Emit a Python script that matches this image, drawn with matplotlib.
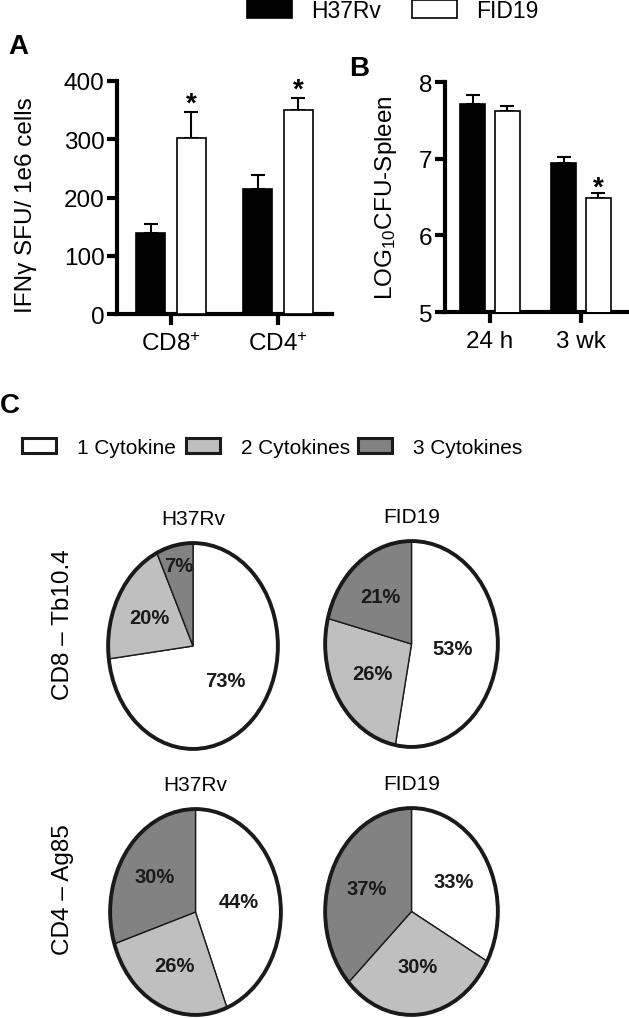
import numpy as np
import matplotlib
matplotlib.use("Agg")
import matplotlib.pyplot as plt
from matplotlib.patches import Patch, Ellipse

plt.rcParams['font.family'] = ['Liberation Sans', 'DejaVu Sans']
plt.rcParams['mathtext.fontset'] = 'custom'
plt.rcParams['mathtext.rm'] = 'Liberation Sans'
plt.rcParams['mathtext.it'] = 'Liberation Sans'

# panel A data
a_groups = ["CD8$^{+}$", "CD4$^{+}$"]
a_h37rv = [139, 214]
a_h37rv_err = [15, 25]
a_fid19 = [302, 351]
a_fid19_err = [44, 19]

# panel B data
b_groups = ["24 h", "3 wk"]
b_h37rv = [7.71, 6.945]
b_h37rv_err = [0.12, 0.075]
b_fid19 = [7.62, 6.49]
b_fid19_err = [0.07, 0.06]

# panel C data
cyto_labels = ["1 Cytokine", "2 Cytokines", "3 Cytokines"]
cyto_colors = ["white", "#bfbfbf", "#828282"]
pie_titles = ["H37Rv", "FID19"]
row_labels = ["CD8 \u2013 Tb10.4", "CD4 \u2013 Ag85"]
pie_values = [
    [[73, 20, 7], [53, 26, 21]],
    [[44, 26, 30], [33, 30, 37]],
]

W, H = 629, 1020
fig = plt.figure(figsize=(W / 100, H / 100), dpi=100)
FS = 17.5


def px_axes(x0, y0, x1, y1):
    return fig.add_axes([x0 / W, 1 - y1 / H, (x1 - x0) / W, (y1 - y0) / H])


def bar_panel(ax, groups, v1, e1, v2, e2, stars, star_dy):
    x = np.arange(len(groups))
    w = 0.27
    ax.bar(x - 0.19, v1, w, color="black", edgecolor="black", lw=1.2, zorder=3)
    ax.bar(x + 0.19, v2, w, color="white", edgecolor="black", lw=1.2, zorder=3)
    for off, v, e in [(-0.19, v1, e1), (0.19, v2, e2)]:
        ax.errorbar(x + off, v, yerr=[np.zeros(len(v)), e], fmt="none",
                    ecolor="black", elinewidth=1.5, capsize=5, capthick=1.5, zorder=2)
    for i in stars:
        ax.annotate("*", (x[i] + 0.19, v2[i] + e2[i]), xytext=(0, star_dy),
                    textcoords="offset points", ha="center", va="baseline",
                    fontsize=20, fontweight="bold")
    ax.set_xticks(x)
    ax.set_xticklabels(groups)
    for s in ["top", "right"]:
        ax.spines[s].set_visible(False)
    for s in ["left", "bottom"]:
        ax.spines[s].set_linewidth(3)
    ax.tick_params(axis="both", width=3, length=7, labelsize=FS, pad=2)
    ax.tick_params(axis="x", length=8, pad=5)


# Panel A
axA = px_axes(117, 82, 332, 315)
bar_panel(axA, a_groups, a_h37rv, a_h37rv_err, a_fid19, a_fid19_err, [0, 1], 1)
axA.set_xlim(-0.505, 1.505)
axA.set_ylim(0, 400)
axA.set_yticks([0, 100, 200, 300, 400])
axA.set_ylabel("IFN\u03b3 SFU/ 1e6 cells", fontsize=FS)
axA.yaxis.set_label_coords(-0.372, 0.47)

# Panel B
axB = px_axes(445, 83, 628, 313)
bar_panel(axB, b_groups, b_h37rv, b_h37rv_err, b_fid19, b_fid19_err, [1], -1)
axB.set_xlim(-0.495, 1.516)
axB.set_ylim(5, 8)
axB.set_yticks([5, 6, 7, 8])
axB.set_ylabel("LOG$_{10}$CFU-Spleen", fontsize=FS)
axB.yaxis.set_label_coords(-0.25, 0.5)

fig.text(8 / W, 1 - 54 / H, "A", fontsize=20, fontweight="bold")
fig.text(349 / W, 1 - 76 / H, "B", fontsize=20, fontweight="bold")
fig.text(0 / W, 1 - 413 / H, "C", fontsize=20, fontweight="bold")

# top legend, one entry per legend so each box sits where it should
top_entries = [("H37Rv", "black", 247), ("FID19", "white", 412)]
for lab, col, x0 in top_entries:
    fig.legend(handles=[Patch(facecolor=col, edgecolor="black", lw=1.2, label=lab)],
               loc="center left", bbox_to_anchor=(x0 / W, 1 - 11.5 / H),
               frameon=False, fontsize=16.5, handlelength=1.95, handleheight=0.85,
               handletextpad=0.85, borderpad=0, borderaxespad=0)

# panel C legend
c_x = [22, 186, 358]
for lab, col, x0 in zip(cyto_labels, cyto_colors, c_x):
    fig.legend(handles=[Patch(facecolor=col, edgecolor="#1a1a1a", lw=2.2, label=lab)],
               loc="center left", bbox_to_anchor=(x0 / W, 1 - 448 / H),
               frameon=False, fontsize=15, handlelength=1.65, handleheight=0.7,
               handletextpad=1.0, borderpad=0, borderaxespad=0)

# pies
pie_boxes = [
    [(106, 542, 280, 752), (323, 540, 500, 750)],
    [(108, 808, 283, 1018), (323, 807, 500, 1018)],
]
label_dist = [
    [[0.5, 0.58, 0.8], [0.48, 0.53, 0.58]],
    [[0.52, 0.57, 0.59], [0.57, 0.54, 0.57]],
]
for r in range(2):
    for c in range(2):
        ax = px_axes(*pie_boxes[r][c])
        wedges, _, autotexts = ax.pie(
            pie_values[r][c], colors=cyto_colors, startangle=90, counterclock=False,
            autopct=lambda p: f"{p:.0f}%", pctdistance=0.55,
            wedgeprops={"edgecolor": "#1a1a1a", "linewidth": 1.0},
            textprops={"fontsize": 14.5, "fontweight": "bold", "color": "#1a1a1a"})
        for wdg, t, d in zip(wedges, autotexts, label_dist[r][c]):
            ang = np.deg2rad((wdg.theta1 + wdg.theta2) / 2)
            t.set_position((d * np.cos(ang), d * np.sin(ang)))
        ax.add_patch(Ellipse((0, 0), 2, 2, fill=False, edgecolor="#1a1a1a", lw=2.8, zorder=5))
        ax.set_aspect("auto")
        ax.set_xlim(-1.025, 1.025)
        ax.set_ylim(-1.02, 1.02)
        ax.set_title(pie_titles[c], fontsize=15, pad=12)
    fig.text(63 / W, 1 - (625 if r == 0 else 890) / H, row_labels[r], rotation=90,
             fontsize=17.5, ha="center", va="center")

fig.savefig("out.png", dpi=100)
